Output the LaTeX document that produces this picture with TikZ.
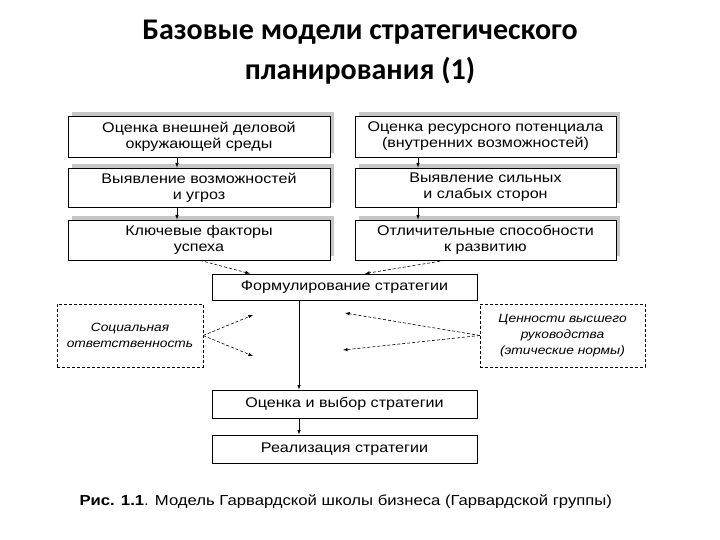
\documentclass[tikz,border=0pt]{standalone}
\usepackage{fontspec}
\setmainfont{Liberation Sans}[FakeStretch=1.15]
\newfontfamily\titlefont{Carlito}
\usetikzlibrary{calc}

\begin{document}
\begin{tikzpicture}[x=1pt, y=-1pt,
  box/.style={draw, thick, fill=white, align=center, inner sep=0pt, font=\fontsize{14}{16}\selectfont},
  soc/.style={draw, densely dashed, align=center, inner sep=0pt, font=\fontsize{12}{16}\selectfont\itshape},
  arr/.style={-latex, semithick}]
  \useasboundingbox (0,0) rectangle (720,540);
  \node[font=\titlefont\bfseries\fontsize{30}{40}\selectfont, align=center] (title) at (360,52) {Базовые модели стратегического\\планирования (1)};

  % boxes with shadow: name, x1, y1, x2, y2, text
  \foreach \n/\xa/\ya/\xb/\yb/\t in {
      L1/68/116/330/157/{Оценка внешней деловой\\окружающей среды},
      L2/68/168/330/207/{Выявление возможностей\\и угроз},
      L3/68/220/330/260/{Ключевые факторы\\успеха},
      R1/355/116/616/157/{Оценка ресурсного потенциала\\(внутренних возможностей)},
      R2/355/168/616/207/{Выявление сильных\\и слабых сторон},
      R3/355/220/616/260/{Отличительные способности\\к развитию}} {
    \fill[gray!45] (\xa+4,\ya-4) rectangle (\xb+4,\yb-4);
    \node[box, minimum width=\xb-\xa, minimum height=\yb-\ya] (\n) at ({(\xa+\xb)/2},{(\ya+\yb)/2}) {\t};
  }
  \node[box, minimum width=265, minimum height=26] (form) at (344.5,287) {Формулирование стратегии};
  \node[box, minimum width=265, minimum height=28] (eval) at (344.5,404) {Оценка и выбор стратегии};
  \node[box, minimum width=265, minimum height=28] (impl) at (344.5,449) {Реализация стратегии};
  \node[soc, minimum width=146, minimum height=63] (social) at (130,335.5) {Социальная\\ответственность};
  \node[soc, minimum width=165, minimum height=63] (values) at (562.5,335.5) {Ценности высшего\\руководства\\(этические нормы)};
  \node[font=\fontsize{14.5}{17}\selectfont, anchor=west] (caption) at (76,502) {\textbf{Рис. 1.1}. Модель Гарвардской школы бизнеса (Гарвардской группы)};

  \coordinate (s1) at (253,315);
  \coordinate (s2) at (253,356);
  \coordinate (v1) at (345,313);
  \coordinate (v2) at (343,350);

  \draw[arr] (L1.south -| 177,0) -- (L2.north -| 177,0);
  \draw[arr] (L2.south -| 177,0) -- (L3.north -| 177,0);
  \draw[arr] (R1.south -| 418,0) -- (R2.north -| 418,0);
  \draw[arr] (R2.south -| 418,0) -- (R3.north -| 418,0);
  \draw[arr, densely dashed] (L3.south -| 200,0) -- (form.north -| 250,0);
  \draw[arr, densely dashed] (R3.south -| 445,0) -- (form.north -| 365,0);
  \draw[arr] (form.south -| 299,0) -- (eval.north -| 299,0);
  \draw[arr] (eval.south -| 299,0) -- (impl.north -| 299,0);
  \draw[arr, densely dashed] (social.east) -- (s1);
  \draw[arr, densely dashed] (social.east) -- (s2);
  \draw[arr, densely dashed] (values.west) -- (v1);
  \draw[arr, densely dashed] (values.west) -- (v2);
\end{tikzpicture}
\end{document}
